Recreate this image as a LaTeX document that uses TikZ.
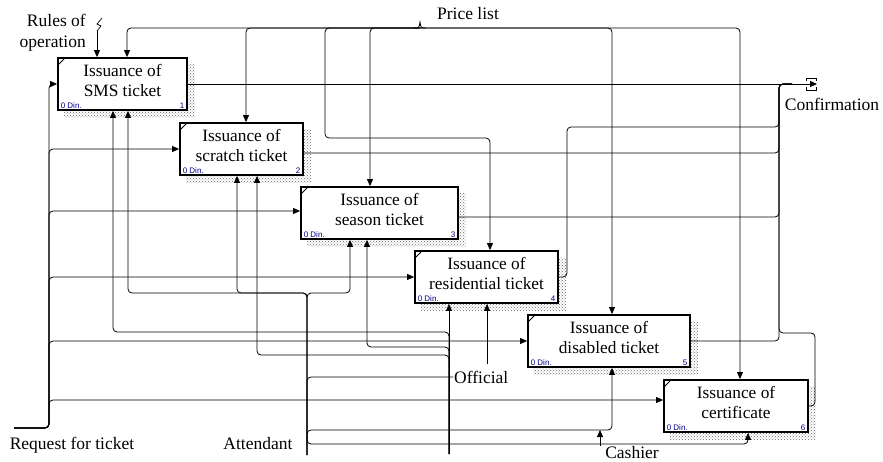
\documentclass[tikz,border=0pt]{standalone}
\usepackage{fontspec}
\setmainfont{Liberation Serif}
\newfontfamily\dinfont{Liberation Sans}
\usetikzlibrary{arrows.meta,positioning,calc,patterns,backgrounds}

\begin{document}
\begin{tikzpicture}[x=1pt, y=-1pt,
    fn/.style={draw, line width=1.8pt, fill=white, minimum height=52pt, align=center, inner sep=0pt,
      font=\fontsize{17.3}{20}\selectfont, text depth=8pt,
      label={[din, anchor=south west, xshift=2pt, yshift=1pt]south west:0 Din.},
      path picture={\draw[line width=1pt] ([yshift=-7pt]path picture bounding box.north west) -- ([xshift=7pt]path picture bounding box.north west);}},
    fnum/.style={label={[din, anchor=south east, xshift=-2pt, yshift=1pt]south east:#1}},
    din/.style={font=\dinfont\fontsize{8}{9}\selectfont, text=blue!55!black, inner sep=1.5pt},
    arr/.style={-{Triangle[length=7pt,width=6pt]}, line width=0.8pt, rounded corners=4pt},
    ln/.style={line width=0.8pt, rounded corners=4pt},
    lbl/.style={font=\fontsize{17.5}{21}\selectfont, inner sep=1pt, align=right},
    shade/.style={pattern=crosshatch dots, pattern color=black!60}
]
\useasboundingbox (0,0) rectangle (883,462);

% activities
\node[fn, fnum=1, minimum width=129pt] (b1) at (122.5,84) {Issuance of\\SMS ticket};
\node[fn, fnum=2, minimum width=123pt] (b2) at (241.5,149) {Issuance of\\scratch ticket};
\node[fn, fnum=3, minimum width=157pt] (b3) at (379.5,213) {Issuance of\\season ticket};
\node[fn, fnum=4, minimum width=143pt] (b4) at (486.5,277) {Issuance of\\residential ticket};
\node[fn, fnum=5, minimum width=162pt] (b5) at (609,341) {Issuance of\\disabled ticket};
\node[fn, fnum=6, minimum width=144pt] (b6) at (736,406) {Issuance of\\certificate};

\begin{scope}[on background layer]
\fill[shade] ([xshift=7pt,yshift=-7pt]b1.south west) rectangle ([xshift=7pt,yshift=-7pt]b1.north east);
\fill[shade] ([xshift=7pt,yshift=-7pt]b2.south west) rectangle ([xshift=7pt,yshift=-7pt]b2.north east);
\fill[shade] ([xshift=7pt,yshift=-7pt]b3.south west) rectangle ([xshift=7pt,yshift=-7pt]b3.north east);
\fill[shade] ([xshift=7pt,yshift=-7pt]b4.south west) rectangle ([xshift=7pt,yshift=-7pt]b4.north east);
\fill[shade] ([xshift=7pt,yshift=-7pt]b5.south west) rectangle ([xshift=7pt,yshift=-7pt]b5.north east);
\fill[shade] ([xshift=7pt,yshift=-7pt]b6.south west) rectangle ([xshift=7pt,yshift=-7pt]b6.north east);
\end{scope}

% labels
\node[lbl, anchor=east] (rulesl) at (87,33) {Rules of\\operation};
\node[lbl] (pricel) at (468,14) {Price list};
\node[lbl] (confl) at (832,104) {Confirmation};
\node[lbl] (reql) at (72,445) {Request for ticket};
\node[lbl] (attl) at (258,444) {Attendant};
\node[lbl, anchor=west] (offl) at (453,377) {Official};
\node[lbl] (cashl) at (632,453) {Cashier};

% controls
\coordinate (rules) at (97,31);
\draw[arr] (rules) -- (rules |- b1.north);
\draw[line width=0.7pt] (102,18) -- (97,24) -- (101,26) -- (97,31);
\coordinate (pr) at (420,28);
\coordinate (pl3) at (325,138);
\draw[arr] (pr) -| ([xshift=4.5pt]b1.north);
\draw[arr] (pr) -| ([xshift=4.5pt]b2.north);
\draw[arr] (pr) -| (pl3) -| ([xshift=3.5pt]b4.north);
\draw[arr] (pr) -| ([xshift=-9.5pt]b3.north);
\draw[arr] (pr) -| ([xshift=3pt]b5.north);
\draw[arr] (pr) -| ([xshift=4pt]b6.north);
\draw[line width=0.8pt] ($(pr)+(-6,0)$) .. controls ($(pr)+(-1,0)$) .. ($(pr)+(0,-6)$) .. controls ($(pr)+(1,0)$) .. ($(pr)+(6,0)$);

% outputs
\coordinate (conf) at (817,84);
\coordinate (obus) at (779,84);
\coordinate (omerge) at (792,84);
\coordinate (o2) at ([yshift=-4pt]b2.east);
\coordinate (o3) at ([yshift=-4pt]b3.east);
\coordinate (o4) at (567,127);
\coordinate (o6) at (815,333);
\draw[arr] (b1.east) -- (conf);
\draw[line width=0.8pt] ($(conf)+(-11,-3)$) -- ($(conf)+(-11,-6)$) -- ($(conf)+(-1,-6)$) -- ($(conf)+(-1,-3)$);
\draw[line width=0.8pt] ($(conf)+(-11,3)$) -- ($(conf)+(-11,6)$) -- ($(conf)+(-1,6)$) -- ($(conf)+(-1,3)$);
\draw[ln] (o2) -| (obus) -- (omerge);
\draw[ln] (o3) -| (obus) -- (omerge);
\draw[ln] (b4.east) -| (o4) -| (obus) -- (omerge);
\draw[ln] (b5.east) -| (obus) -- (omerge);
\draw[ln] (b6.east) -| (o6) -| (obus) -- (omerge);

% inputs
\coordinate (req) at (14,428);
\coordinate (ibus) at (49,428);
\coordinate (i3) at ([yshift=2pt]b3.west);
\coordinate (i6) at ([yshift=6pt]b6.west);
\draw[arr] (req) -| (ibus |- b1.west) -- (b1.west);
\draw[arr] (req) -| (ibus |- b2.west) -- (b2.west);
\draw[arr] (req) -| (ibus |- i3) -- (i3);
\draw[arr] (req) -| (ibus |- b4.west) -- (b4.west);
\draw[arr] (req) -| (ibus |- b5.west) -- (b5.west);
\draw[arr] (req) -| (ibus |- i6) -- (i6);

% mechanisms
\coordinate (att) at (307,455);
\coordinate (ma) at (128,293);
\coordinate (mb) at (237,293);
\coordinate (mc) at (350,293);
\draw[arr] (att) |- (ma) -- (ma |- b1.south);
\draw[arr] (att) |- (mb) -- (mb |- b2.south);
\draw[arr] (att) |- (mc) -- (mc |- b3.south);
\draw[ln] (att) |- (offl.west);

\coordinate (mx) at (449,454);
\coordinate (md) at (113,332);
\coordinate (me) at (367,347);
\coordinate (mf) at (257,355);
\draw[arr] (mx) -- (mx |- b4.south);
\draw[arr] (mx) |- (md) -- (md |- b1.south);
\draw[arr] (mx) |- (me) -- (me |- b3.south);
\draw[arr] (mx) |- (mf) -- (mf |- b2.south);

\coordinate (off) at (487,364);
\draw[arr] (off) -- (off |- b4.south);

\coordinate (cash) at (600,446);
\coordinate (cj) at (600,430);
\coordinate (cx) at (307,430);
\coordinate (cz) at (748,444);
\draw[arr] (cash) -- (cj);
\draw[arr] (cj) -| ([xshift=3pt]b5.south);
\draw[arr] (cj) -- (cx) |- (cz) -- (cz |- b6.south);
\end{tikzpicture}
\end{document}
